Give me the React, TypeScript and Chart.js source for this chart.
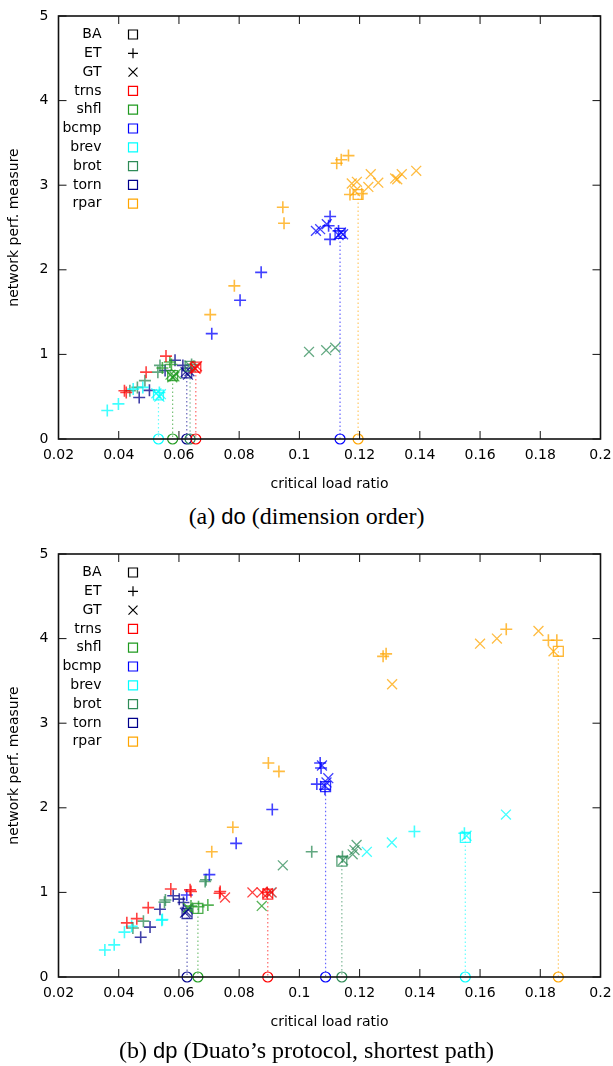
import React, { useEffect, useRef } from 'react';
import { Chart, registerables } from 'chart.js';

Chart.register(...registerables);

type P = [number, number];

// ---------- shared ----------
const patterns = ['trns', 'shfl', 'bcmp', 'brev', 'brot', 'torn', 'rpar'];
const patternColors = ['#ff0000', '#1f9a1f', '#0000ff', '#00ffff', '#2e8b57', '#00008b', '#ffa500'];
const markerNames = ['BA', 'ET', 'GT'];
const xTickLabels = ['0.02', '0.04', '0.06', '0.08', '0.1', '0.12', '0.14', '0.16', '0.18', '0.2'];
const yTickLabels = ['0', '1', '2', '3', '4', '5'];
const xTitle = 'critical load ratio';
const yTitle = 'network perf. measure';

// ---------- (a) do (dimension order) ----------  order: trns, shfl, bcmp, brev, brot, torn, rpar
const doBA: P[] = [
  [0.0656, 0.85], [0.0579, 0.75], [0.1135, 2.43], [0.0532, 0.52], [0.0637, 0.86], [0.0626, 0.78], [0.1195, 2.89],
];
const doET: P[][] = [
  [[0.0419, 0.57], [0.0425, 0.55], [0.0491, 0.79], [0.0557, 0.98]],
  [[0.057, 0.91], [0.0575, 0.88], [0.0545, 0.84]],
  [[0.0709, 1.245], [0.0803, 1.64], [0.0873, 1.97], [0.1102, 2.63], [0.1097, 2.52], [0.1102, 2.36], [0.113, 2.46]],
  [[0.0362, 0.336], [0.0399, 0.415], [0.0448, 0.59], [0.048, 0.61], [0.0535, 0.55]],
  [[0.0437, 0.57], [0.0462, 0.61], [0.0487, 0.69], [0.053, 0.79], [0.0537, 0.87], [0.0642, 0.88]],
  [[0.0468, 0.49], [0.0502, 0.575], [0.0554, 0.81], [0.0587, 0.93], [0.0613, 0.87]],
  [[0.0704, 1.47], [0.0784, 1.81], [0.0945, 2.74], [0.0949, 2.55], [0.1124, 3.26], [0.1139, 3.3], [0.1163, 3.35], [0.1168, 2.89], [0.1207, 2.9]],
];
const doGT: P[][] = [
  [[0.0652, 0.84], [0.066, 0.86], [0.0655, 0.83]],
  [[0.0572, 0.76], [0.0585, 0.74], [0.059, 0.77], [0.0578, 0.73]],
  [[0.1055, 2.46], [0.1069, 2.48], [0.1091, 2.54], [0.113, 2.41], [0.1138, 2.44], [0.1145, 2.42]],
  [[0.0525, 0.54], [0.0535, 0.5], [0.054, 0.53]],
  [[0.1032, 1.03], [0.1089, 1.05], [0.1119, 1.08], [0.0635, 0.87]],
  [[0.0622, 0.79], [0.063, 0.76], [0.0635, 0.8]],
  [[0.1174, 3.02], [0.1191, 3.04], [0.1237, 3.13], [0.1229, 2.98], [0.1262, 3.03], [0.1318, 3.08], [0.134, 3.13], [0.1388, 3.17], [0.1185, 2.93], [0.1325, 3.07]],
];

// ---------- (b) dp (Duato's protocol, shortest path) ----------
const dpBA: P[] = [
  [0.0895, 0.98], [0.0663, 0.81], [0.1087, 2.25], [0.1551, 1.65], [0.1141, 1.37], [0.0627, 0.75], [0.186, 3.85],
];
const dpET: P[][] = [
  [[0.0427, 0.64], [0.046, 0.69], [0.0498, 0.82], [0.0573, 1.04], [0.0637, 1.03], [0.064, 1.01], [0.0737, 1.01], [0.0735, 0.99], [0.0893, 1.0]],
  [[0.0696, 0.85], [0.0665, 0.83], [0.064, 0.84]],
  [[0.0626, 0.97], [0.0701, 1.21], [0.079, 1.58], [0.091, 1.98], [0.1069, 2.53], [0.1072, 2.47], [0.1058, 2.28], [0.1085, 2.22]],
  [[0.0354, 0.32], [0.0385, 0.38], [0.0419, 0.53], [0.0443, 0.6], [0.0543, 0.67], [0.0545, 0.68], [0.1382, 1.72], [0.1548, 1.7]],
  [[0.0447, 0.58], [0.0482, 0.66], [0.0552, 0.885], [0.0555, 0.91], [0.0687, 1.13], [0.069, 1.15], [0.1041, 1.48], [0.1143, 1.42]],
  [[0.0473, 0.47], [0.0504, 0.59], [0.0537, 0.8], [0.0581, 0.96], [0.0601, 0.92], [0.0615, 0.88]],
  [[0.0709, 1.48], [0.0779, 1.77], [0.0897, 2.53], [0.0932, 2.43], [0.1278, 3.79], [0.1288, 3.82], [0.1687, 4.11], [0.1827, 3.98], [0.1855, 3.98]],
];
const dpGT: P[][] = [
  [[0.0753, 0.94], [0.0844, 1.0], [0.0875, 1.0], [0.0908, 1.0], [0.0895, 0.99]],
  [[0.0875, 0.84], [0.063, 0.82]],
  [[0.1096, 2.35], [0.1075, 2.5], [0.109, 2.3], [0.1085, 2.26]],
  [[0.0906, 1.0], [0.1224, 1.48], [0.1307, 1.59], [0.1686, 1.92], [0.1555, 1.67]],
  [[0.0945, 1.32], [0.1177, 1.45], [0.119, 1.56], [0.1183, 1.5], [0.1145, 1.38]],
  [[0.0625, 0.77], [0.063, 0.8], [0.062, 0.76]],
  [[0.1308, 3.46], [0.16, 3.94], [0.1656, 4.0], [0.1794, 4.09], [0.1844, 3.85]],
];

// ---------- helpers ----------
const FONT = 'DejaVu Sans';

function rgba(hex: string, a: number) {
  const n = parseInt(hex.slice(1), 16);
  return `rgba(${(n >> 16) & 255},${(n >> 8) & 255},${n & 255},${a})`;
}

function buildDatasets(ba: P[], et: P[][], gt: P[][]) {
  const ds: any[] = [];
  patterns.forEach((name, i) => {
    const c = patternColors[i];
    ds.push({
      label: name + ' drop',
      data: [{ x: ba[i][0], y: ba[i][1] }, { x: ba[i][0], y: 0 }],
      showLine: true,
      borderColor: rgba(c, 0.6),
      borderWidth: 1.2,
      borderDash: [1.5, 2.5],
      pointRadius: (ctx: any) => (ctx.dataIndex === 1 ? 5 : 0),
      pointStyle: 'circle',
      pointBorderColor: c,
      pointBackgroundColor: 'rgba(0,0,0,0)',
      pointBorderWidth: 1.2,
      clip: false,
    });
  });
  patterns.forEach((name, i) => {
    const c = patternColors[i];
    ds.push({
      label: name + ' ET',
      data: et[i].map(([x, y]) => ({ x, y })),
      pointStyle: 'cross',
      pointRadius: 6,
      pointBorderColor: rgba(c, 0.75),
      pointBackgroundColor: 'rgba(0,0,0,0)',
      pointBorderWidth: 1.6,
      clip: false,
    });
    ds.push({
      label: name + ' GT',
      data: gt[i].map(([x, y]) => ({ x, y })),
      pointStyle: 'crossRot',
      pointRadius: 7,
      pointBorderColor: rgba(c, 0.75),
      pointBackgroundColor: 'rgba(0,0,0,0)',
      pointBorderWidth: 1.3,
      clip: false,
    });
    ds.push({
      label: name + ' BA',
      data: [{ x: ba[i][0], y: ba[i][1] }],
      pointStyle: 'rect',
      pointRadius: 7,
      pointBorderColor: rgba(c, 0.8),
      pointBackgroundColor: 'rgba(0,0,0,0)',
      pointBorderWidth: 1.3,
      clip: false,
    });
  });
  return ds;
}

const frame = {
  id: 'frame',
  afterDatasetsDraw(chart: any) {
    const { ctx, chartArea: a, scales } = chart;
    ctx.save();
    ctx.strokeStyle = '#111';
    ctx.lineWidth = 1;
    const tl = 8;
    ctx.beginPath();
    scales.x.ticks.forEach((t: any) => {
      const px = scales.x.getPixelForValue(t.value);
      ctx.moveTo(px, a.bottom);
      ctx.lineTo(px, a.bottom - tl);
      ctx.moveTo(px, a.top);
      ctx.lineTo(px, a.top + tl);
    });
    scales.y.ticks.forEach((t: any) => {
      const py = scales.y.getPixelForValue(t.value);
      ctx.moveTo(a.left, py);
      ctx.lineTo(a.left + tl, py);
      ctx.moveTo(a.right, py);
      ctx.lineTo(a.right - tl, py);
    });
    ctx.stroke();
    ctx.lineWidth = 1.6;
    ctx.strokeStyle = '#111';
    ctx.strokeRect(a.left, a.top, a.right - a.left, a.bottom - a.top);
    ctx.restore();
  },
  afterDraw(chart: any) {
    const { ctx, chartArea: a } = chart;
    const labels = [...markerNames, ...patterns];
    ctx.save();
    ctx.font = `14px "${FONT}"`;
    ctx.textAlign = 'right';
    ctx.textBaseline = 'middle';
    ctx.fillStyle = '#000';
    labels.forEach((lab, i) => {
      const y = a.top + 18.5 + i * 18.8;
      const tx = 101.5;
      const sx = 133;
      ctx.fillText(lab, tx, y);
      ctx.lineWidth = 1.2;
      const h = 5;
      ctx.beginPath();
      if (i === 1) {
        ctx.strokeStyle = '#000';
        ctx.moveTo(sx - h, y); ctx.lineTo(sx + h, y);
        ctx.moveTo(sx, y - h); ctx.lineTo(sx, y + h);
      } else if (i === 2) {
        ctx.strokeStyle = '#000';
        ctx.moveTo(sx - 4.5, y - 4.5); ctx.lineTo(sx + 4.5, y + 4.5);
        ctx.moveTo(sx - 4.5, y + 4.5); ctx.lineTo(sx + 4.5, y - 4.5);
      } else {
        ctx.strokeStyle = i === 0 ? '#000' : patternColors[i - 3];
        ctx.rect(sx - 4.5, y - 4.5, 9, 9);
      }
      ctx.stroke();
    });
    ctx.restore();
  },
};

function Panel({ ba, et, gt, top }: { ba: P[]; et: P[][]; gt: P[][]; top: number }) {
  const ref = useRef<HTMLCanvasElement | null>(null);
  useEffect(() => {
    const xVals = xTickLabels.map(Number);
    const yVals = yTickLabels.map(Number);
    const chart = new Chart(ref.current as HTMLCanvasElement, {
      type: 'scatter',
      data: { datasets: buildDatasets(ba, et, gt) },
      options: {
        animation: false,
        responsive: false,
        devicePixelRatio: 1,
        layout: { padding: { top: 16, right: 12.5, left: 0, bottom: 0 } },
        plugins: { legend: { display: false }, tooltip: { enabled: false } },
        scales: {
          x: {
            type: 'linear',
            min: 0.02,
            max: 0.2,
            afterBuildTicks: (s: any) => { s.ticks = xVals.map((v) => ({ value: v })); },
            afterFit: (s: any) => { s.height = 61; s.paddingLeft = 0; s.paddingRight = 0; },
            ticks: {
              callback: (v: any) => xTickLabels[xVals.findIndex((t) => Math.abs(t - v) < 1e-9)] ?? '',
              font: { family: FONT, size: 14 },
              color: '#000',
              padding: 8,
              maxRotation: 0,
              autoSkip: false,
            },
            grid: { display: false, drawTicks: false, tickLength: 0 },
            border: { display: false },
            title: { display: true, text: xTitle, font: { family: FONT, size: 14 }, color: '#000', padding: { top: 0, bottom: 7 } },
          },
          y: {
            type: 'linear',
            min: 0,
            max: 5,
            afterBuildTicks: (s: any) => { s.ticks = yVals.map((v) => ({ value: v })); },
            afterFit: (s: any) => { s.width = 58.5; s.paddingTop = 0; s.paddingBottom = 0; },
            ticks: {
              callback: (v: any) => yTickLabels[yVals.indexOf(Number(v))] ?? '',
              font: { family: FONT, size: 14 },
              color: '#000',
              padding: 10,
            },
            grid: { display: false, drawTicks: false, tickLength: 0 },
            border: { display: false },
            title: { display: true, text: yTitle, font: { family: FONT, size: 14 }, color: '#000', padding: { top: 6, bottom: 0 } },
          },
        },
      },
      plugins: [frame],
    } as any);
    return () => chart.destroy();
  }, []);
  return (
    <canvas
      ref={ref}
      width={613}
      height={500}
      style={{ position: 'absolute', left: 0, top, width: 613, height: 500 }}
    />
  );
}

const captionStyle: React.CSSProperties = {
  position: 'absolute',
  left: 0,
  width: 613,
  textAlign: 'center',
  fontFamily: '"Liberation Serif", serif',
  fontSize: 24,
  lineHeight: '26px',
  color: '#000',
};
const sansStyle: React.CSSProperties = { fontFamily: '"Liberation Sans", sans-serif', fontSize: 22 };

export default function App() {
  useEffect(() => {
    document.body.style.margin = '0';
  }, []);
  return (
    <div style={{ position: 'relative', width: 613, height: 1066, background: '#fff' }}>
      <Panel ba={doBA} et={doET} gt={doGT} top={0} />
      <div style={{ ...captionStyle, top: 503 }}>
        (a) <span style={sansStyle}>do</span> (dimension order)
      </div>
      <Panel ba={dpBA} et={dpET} gt={dpGT} top={538} />
      <div style={{ ...captionStyle, top: 1037 }}>
        (b) <span style={sansStyle}>dp</span> (Duato’s protocol, shortest path)
      </div>
    </div>
  );
}
